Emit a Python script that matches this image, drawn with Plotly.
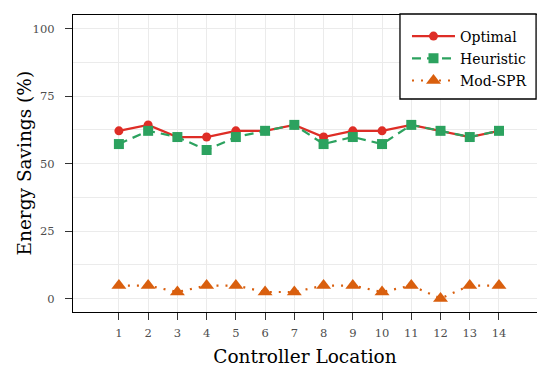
import plotly.graph_objects as go

# Controller placement results
locations = list(range(1, 15))
optimal = [62.1, 64.3, 59.8, 59.8, 62.1, 62.1, 64.3, 59.8, 62.1, 62.1, 64.3, 62.1, 59.8, 62.1]
heuristic = [57.2, 62.1, 59.8, 55.0, 59.8, 62.1, 64.3, 57.2, 59.8, 57.2, 64.3, 62.1, 59.8, 62.1]
mod_spr = [4.8, 4.8, 2.4, 4.8, 4.8, 2.4, 2.4, 4.8, 4.8, 2.4, 4.8, 0.0, 4.8, 4.8]

y_ticks = [0, 25, 50, 75, 100]

RED = "#DE2D26"
GREEN = "#2CA25F"
ORANGE = "#D95F0E"
SERIF = "DejaVu Serif"

fig = go.Figure()
fig.add_trace(go.Scatter(
    x=locations, y=optimal, name="Optimal", mode="lines+markers", legendgroup="a",
    line=dict(color=RED, width=2.2),
    marker=dict(symbol="circle", size=9, color=RED),
))
fig.add_trace(go.Scatter(
    x=locations, y=heuristic, name="Heuristic", mode="lines+markers", legendgroup="b",
    line=dict(color=GREEN, width=2.2, dash="9px,6px"),
    marker=dict(symbol="square", size=10, color=GREEN),
))
fig.add_trace(go.Scatter(
    x=locations, y=mod_spr, name="Mod-SPR", mode="lines+markers", legendgroup="c",
    line=dict(color=ORANGE, width=2.2, dash="2px,7px"),
    marker=dict(symbol="triangle-up", size=13, color=ORANGE),
))

grid = "#EBEBEB"
fig.update_layout(
    width=537, height=367,
    margin=dict(l=73, r=0, t=15, b=55),
    paper_bgcolor="white", plot_bgcolor="white",
    font=dict(family=SERIF, color="black"),
    xaxis=dict(
        range=[-0.57, 15.3], tickvals=locations, ticktext=[str(v) for v in locations],
        showgrid=True, gridcolor=grid, gridwidth=1, zeroline=False,
        showline=True, linecolor="black", linewidth=1.3, mirror=True,
        ticks="outside", ticklen=7, tickcolor="#333333", ticklabelstandoff=3,
        tickfont=dict(size=11.5, color="#4D4D4D", family=SERIF),
        title=dict(text="Controller Location", font=dict(size=18.5, family=SERIF), standoff=13),
    ),
    yaxis=dict(
        range=[-5, 105], tickvals=y_ticks,
        showgrid=True, gridcolor=grid, gridwidth=1, zeroline=False,
        showline=True, linecolor="black", linewidth=1.3,
        ticks="outside", ticklen=7, tickcolor="#333333", ticklabelstandoff=8,
        tickfont=dict(size=11.5, color="#4D4D4D", family=SERIF),
        minor=dict(tickvals=[12.5, 37.5, 62.5, 87.5], showgrid=True, gridcolor=grid, gridwidth=1),
    ),
    annotations=[dict(
        text="Energy Savings (%)", textangle=-90, showarrow=False,
        xref="paper", yref="paper", x=0, y=0.5, xanchor="center", yanchor="middle",
        xshift=-49, font=dict(size=18.5, family=SERIF, color="black"),
    )],
    # framed box behind the legend entries
    shapes=[dict(
        type="rect", xref="paper", yref="paper", layer="above",
        x0=0.7047, x1=0.998, y0=0.7172, y1=1.0034,
        line=dict(color="black", width=1.3), fillcolor="white",
    )],
    legend=dict(
        x=0.7198, y=0.9815, xanchor="left", yanchor="top",
        bgcolor="rgba(0,0,0,0)", borderwidth=0,
        font=dict(size=14, family=SERIF),
        traceorder="grouped", tracegroupgap=1, itemwidth=43,
    ),
)

fig.write_html("out.html")
